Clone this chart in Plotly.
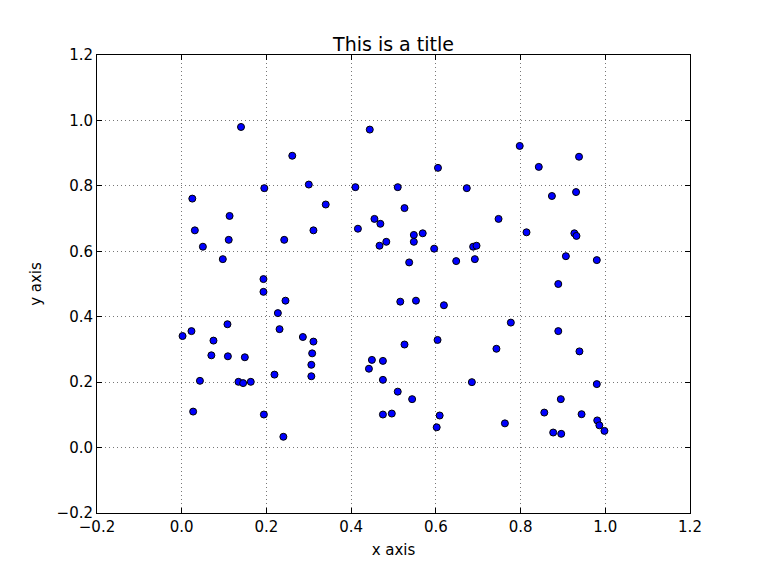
import plotly.graph_objects as go

x_vals = [
    0.140, 0.261, 0.300, 0.195, 0.410, 0.025, 0.340, 0.113, 0.031, 0.311,
    0.416, 0.111, 0.242, 0.050, 0.097, 0.193,
    0.193, 0.245, 0.227, 0.108, 0.023, 0.002, 0.231, 0.075, 0.286, 0.311,
    0.308, 0.070, 0.109, 0.149, 0.306, 0.219, 0.306, 0.043, 0.134, 0.145,
    0.163, 0.027, 0.194, 0.240,
    0.444, 0.798, 0.605, 0.843, 0.510, 0.673, 0.526, 0.455, 0.748, 0.469,
    0.814, 0.569, 0.548, 0.548, 0.483, 0.467, 0.596, 0.688, 0.696, 0.537,
    0.648, 0.692,
    0.516, 0.553, 0.619, 0.777, 0.604, 0.526, 0.743, 0.449, 0.475, 0.442,
    0.475, 0.685, 0.510, 0.544, 0.475, 0.496, 0.609, 0.763, 0.602,
    0.938, 0.874, 0.931, 0.927, 0.932, 0.907, 0.980,
    0.889, 0.889, 0.939, 0.980, 0.895, 0.856, 0.944, 0.981, 0.986, 0.998,
    0.877, 0.896,
]
y_vals = [
    0.980, 0.892, 0.804, 0.793, 0.796, 0.761, 0.743, 0.708, 0.664, 0.664,
    0.669, 0.635, 0.635, 0.614, 0.576, 0.515,
    0.476, 0.449, 0.411, 0.377, 0.356, 0.341, 0.362, 0.327, 0.338, 0.324,
    0.288, 0.282, 0.279, 0.276, 0.253, 0.223, 0.218, 0.204, 0.201, 0.197,
    0.201, 0.110, 0.101, 0.033,
    0.972, 0.922, 0.855, 0.858, 0.796, 0.793, 0.732, 0.699, 0.699, 0.684,
    0.658, 0.655, 0.650, 0.629, 0.629, 0.617, 0.608, 0.614, 0.617, 0.566,
    0.570, 0.576,
    0.446, 0.449, 0.435, 0.382, 0.329, 0.315, 0.302, 0.268, 0.265, 0.241,
    0.207, 0.200, 0.171, 0.148, 0.101, 0.104, 0.098, 0.074, 0.062,
    0.889, 0.769, 0.781, 0.655, 0.647, 0.585, 0.573,
    0.500, 0.356, 0.294, 0.194, 0.148, 0.107, 0.102, 0.083, 0.068, 0.051,
    0.046, 0.042,
]

tick_vals = [-0.2, 0.0, 0.2, 0.4, 0.6, 0.8, 1.0, 1.2]
tick_text = ["\u22120.2", "0.0", "0.2", "0.4", "0.6", "0.8", "1.0", "1.2"]

fig = go.Figure()
fig.add_trace(go.Scatter(
    x=x_vals, y=y_vals, mode="markers",
    marker=dict(size=7, color="#0000ff", line=dict(color="black", width=1)),
    showlegend=False,
))

axis_common = dict(
    tickmode="array", tickvals=tick_vals, ticktext=tick_text,
    range=[-0.2, 1.2], showline=True, linecolor="black", linewidth=1,
    mirror="allticks", ticks="inside", ticklen=5, tickcolor="black",
    showgrid=True, gridcolor="#777777", gridwidth=1, griddash="1px,3px",
    zeroline=False, tickfont=dict(size=15, color="black"),
)

fig.update_layout(
    width=768, height=569,
    margin=dict(l=89, r=86, t=47, b=64),
    paper_bgcolor="white", plot_bgcolor="white",
    font=dict(family="DejaVu Sans", color="black"),
    title=dict(text="This is a title", x=0.5, xanchor="center",
               xref="paper", y=1, yref="paper", yanchor="bottom",
               pad=dict(b=4), font=dict(size=19, color="black")),
    xaxis=dict(title=dict(text="x axis", font=dict(size=15), standoff=9), **axis_common),
    yaxis=dict(title=dict(text="y axis", font=dict(size=15), standoff=11), **axis_common),
)

fig.write_html("out.html")
